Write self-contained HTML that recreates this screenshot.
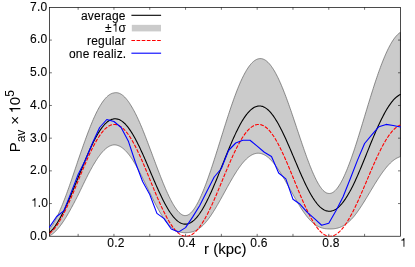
<!DOCTYPE html>
<html><head><meta charset="utf-8"><style>
html,body{margin:0;padding:0;background:#fff}
body{width:415px;height:267px;position:relative;overflow:hidden;font-family:"Liberation Sans",sans-serif;color:#000}
.t{position:absolute;font-size:12px;line-height:14px;white-space:nowrap;will-change:transform;letter-spacing:0.3px;-webkit-text-stroke:0.1px #000}
.one{width:0.556em;height:0.727em;vertical-align:baseline;display:inline-block}
</style></head><body>
<svg width="415" height="267" viewBox="0 0 415 267" style="position:absolute;left:0;top:0">
<defs><clipPath id="c"><rect x="48.90" y="7.40" width="352.10" height="229.15"/></clipPath></defs>
<g clip-path="url(#c)">
<path d="M49.50,229.33 L50.22,228.40 L50.93,227.42 L51.65,226.37 L52.36,225.27 L53.08,224.12 L53.80,222.90 L54.51,221.64 L55.23,220.32 L55.95,218.95 L56.66,217.53 L57.38,216.06 L58.09,214.55 L58.81,212.99 L59.53,211.38 L60.24,209.73 L60.96,208.07 L61.67,206.38 L62.39,204.64 L63.11,202.86 L63.82,201.05 L64.54,199.21 L65.25,197.33 L65.97,195.42 L66.69,193.49 L67.40,191.52 L68.12,189.53 L68.84,187.51 L69.55,185.48 L70.27,183.44 L70.98,181.39 L71.70,179.31 L72.42,177.22 L73.13,175.12 L73.85,173.01 L74.56,170.88 L75.28,168.74 L76.00,166.60 L76.71,164.46 L77.43,162.31 L78.14,160.16 L78.86,158.09 L79.58,156.03 L80.29,153.97 L81.01,151.92 L81.73,149.88 L82.44,147.83 L83.16,145.79 L83.87,143.77 L84.59,141.77 L85.31,139.79 L86.02,137.82 L86.74,135.88 L87.45,133.96 L88.17,132.06 L88.89,130.20 L89.60,128.36 L90.32,126.55 L91.04,124.77 L91.75,123.03 L92.47,121.32 L93.18,119.65 L93.90,118.01 L94.62,116.42 L95.33,114.86 L96.05,113.35 L96.76,111.91 L97.48,110.51 L98.20,109.16 L98.91,107.85 L99.63,106.60 L100.34,105.39 L101.06,104.23 L101.78,103.13 L102.49,102.07 L103.21,101.07 L103.93,100.13 L104.64,99.23 L105.36,98.40 L106.07,97.62 L106.79,96.90 L107.51,96.23 L108.22,95.62 L108.94,95.08 L109.65,94.59 L110.37,94.16 L111.09,93.79 L111.80,93.48 L112.52,93.23 L113.23,93.04 L113.95,92.91 L114.67,92.76 L115.38,92.68 L116.10,92.66 L116.82,92.69 L117.53,92.79 L118.25,92.96 L118.96,93.18 L119.68,93.46 L120.40,93.80 L121.11,94.21 L121.83,94.67 L122.54,95.19 L123.26,95.77 L123.98,96.41 L124.69,97.10 L125.41,97.85 L126.13,98.66 L126.84,99.52 L127.56,100.44 L128.27,101.40 L128.99,102.42 L129.71,103.50 L130.42,104.62 L131.14,105.79 L131.85,107.01 L132.57,108.22 L133.29,109.48 L134.00,110.79 L134.72,112.13 L135.43,113.53 L136.15,114.96 L136.87,116.43 L137.58,117.94 L138.30,119.49 L139.02,121.07 L139.73,122.69 L140.45,124.34 L141.16,126.02 L141.88,127.73 L142.60,129.47 L143.31,131.23 L144.03,133.02 L144.74,134.82 L145.46,136.65 L146.18,138.50 L146.89,140.37 L147.61,142.25 L148.32,144.15 L149.04,146.06 L149.76,147.97 L150.47,149.87 L151.19,151.78 L151.91,153.69 L152.62,155.60 L153.34,157.52 L154.05,159.44 L154.77,161.35 L155.49,163.27 L156.20,165.17 L156.92,167.07 L157.63,168.96 L158.35,170.84 L159.07,172.71 L159.78,174.56 L160.50,176.40 L161.22,178.22 L161.93,180.02 L162.65,181.79 L163.36,183.55 L164.08,185.28 L164.80,186.98 L165.51,188.65 L166.23,190.29 L166.94,191.90 L167.66,193.48 L168.38,195.01 L169.09,196.52 L169.81,197.98 L170.52,199.40 L171.24,200.77 L171.96,202.11 L172.67,203.39 L173.39,204.62 L174.11,205.80 L174.82,206.93 L175.54,208.01 L176.25,209.02 L176.97,209.97 L177.69,210.86 L178.40,211.68 L179.12,212.43 L179.83,213.11 L180.55,213.71 L181.27,214.24 L181.98,214.68 L182.70,215.04 L183.41,215.31 L184.13,215.49 L184.85,215.58 L185.56,215.57 L186.28,215.49 L187.00,215.32 L187.71,215.05 L188.43,214.69 L189.14,214.25 L189.86,213.72 L190.58,213.10 L191.29,212.40 L192.01,211.62 L192.72,210.76 L193.44,209.83 L194.16,208.82 L194.87,207.75 L195.59,206.61 L196.31,205.40 L197.02,204.13 L197.74,202.80 L198.45,201.41 L199.17,199.97 L199.89,198.46 L200.60,196.91 L201.32,195.31 L202.03,193.66 L202.75,191.96 L203.47,190.21 L204.18,188.42 L204.90,186.59 L205.61,184.72 L206.33,182.81 L207.05,180.87 L207.76,178.89 L208.48,176.88 L209.20,174.83 L209.91,172.76 L210.63,170.66 L211.34,168.53 L212.06,166.38 L212.78,164.20 L213.49,162.01 L214.21,159.80 L214.92,157.57 L215.64,155.32 L216.36,153.06 L217.07,150.79 L217.79,148.52 L218.50,146.23 L219.22,143.94 L219.94,141.64 L220.65,139.34 L221.37,137.04 L222.09,134.75 L222.80,132.46 L223.52,130.17 L224.23,127.89 L224.95,125.62 L225.67,123.36 L226.38,121.11 L227.10,118.88 L227.81,116.67 L228.53,114.47 L229.25,112.30 L229.96,110.14 L230.68,108.01 L231.40,105.91 L232.11,103.83 L232.83,101.78 L233.54,99.76 L234.26,97.78 L234.98,95.82 L235.69,93.91 L236.41,92.03 L237.12,90.18 L237.84,88.38 L238.56,86.62 L239.27,84.91 L239.99,83.23 L240.70,81.60 L241.42,80.02 L242.14,78.49 L242.85,77.01 L243.57,75.57 L244.29,74.19 L245.00,72.86 L245.72,71.59 L246.43,70.37 L247.15,69.21 L247.87,68.10 L248.58,67.05 L249.30,66.06 L250.01,65.13 L250.73,64.26 L251.45,63.45 L252.16,62.70 L252.88,62.01 L253.59,61.38 L254.31,60.82 L255.03,60.32 L255.74,59.88 L256.46,59.51 L257.18,59.20 L257.89,58.95 L258.61,58.75 L259.32,58.63 L260.04,58.57 L260.76,58.58 L261.47,58.65 L262.19,58.79 L262.90,59.00 L263.62,59.27 L264.34,59.61 L265.05,60.01 L265.77,60.48 L266.49,61.01 L267.20,61.61 L267.92,62.27 L268.63,62.99 L269.35,63.78 L270.07,64.62 L270.78,65.53 L271.50,66.49 L272.21,67.52 L272.93,68.60 L273.65,69.73 L274.36,70.92 L275.08,72.17 L275.79,73.47 L276.51,74.82 L277.23,76.22 L277.94,77.67 L278.66,79.17 L279.38,80.71 L280.09,82.30 L280.81,83.93 L281.52,85.61 L282.24,87.32 L282.96,89.07 L283.67,90.86 L284.39,92.69 L285.10,94.55 L285.82,96.44 L286.54,98.36 L287.25,100.31 L287.97,102.29 L288.68,104.29 L289.40,106.31 L290.12,108.36 L290.83,110.42 L291.55,112.50 L292.27,114.60 L292.98,116.71 L293.70,118.83 L294.41,120.96 L295.13,123.10 L295.85,125.25 L296.56,127.40 L297.28,129.55 L297.99,131.70 L298.71,133.84 L299.43,135.98 L300.14,138.12 L300.86,140.25 L301.58,142.36 L302.29,144.47 L303.01,146.55 L303.72,148.63 L304.44,150.68 L305.16,152.71 L305.87,154.72 L306.59,156.70 L307.30,158.66 L308.02,160.58 L308.74,162.48 L309.45,164.34 L310.17,166.16 L310.88,167.95 L311.60,169.70 L312.32,171.40 L313.03,173.06 L313.75,174.68 L314.47,176.24 L315.18,177.75 L315.90,179.21 L316.61,180.61 L317.33,181.96 L318.05,183.24 L318.76,184.46 L319.48,185.61 L320.19,186.69 L320.91,187.71 L321.63,188.65 L322.34,189.51 L323.06,190.29 L323.77,190.99 L324.49,191.61 L325.21,192.14 L325.92,192.59 L326.64,192.94 L327.36,193.20 L328.07,193.37 L328.79,193.45 L329.50,193.48 L330.22,193.41 L330.94,193.25 L331.65,193.01 L332.37,192.68 L333.08,192.27 L333.80,191.77 L334.52,191.18 L335.23,190.51 L335.95,189.77 L336.67,188.94 L337.38,188.04 L338.10,187.06 L338.81,186.01 L339.53,184.89 L340.25,183.71 L340.96,182.45 L341.68,181.13 L342.39,179.76 L343.11,178.32 L343.83,176.82 L344.54,175.27 L345.26,173.66 L345.97,172.00 L346.69,170.30 L347.41,168.54 L348.12,166.74 L348.84,164.90 L349.56,163.01 L350.27,161.09 L350.99,159.13 L351.70,157.13 L352.42,155.10 L353.14,153.03 L353.85,150.94 L354.57,148.77 L355.28,146.57 L356.00,144.35 L356.72,142.10 L357.43,139.84 L358.15,137.55 L358.86,135.25 L359.58,132.93 L360.30,130.60 L361.01,128.26 L361.73,125.91 L362.45,123.55 L363.16,121.19 L363.88,118.82 L364.59,116.45 L365.31,114.08 L366.03,111.71 L366.74,109.34 L367.46,106.98 L368.17,104.63 L368.89,102.28 L369.61,99.95 L370.32,97.62 L371.04,95.32 L371.76,93.02 L372.47,90.75 L373.19,88.50 L373.90,86.26 L374.62,84.05 L375.34,81.87 L376.05,79.72 L376.77,77.60 L377.48,75.51 L378.20,73.45 L378.92,71.42 L379.63,69.43 L380.35,67.47 L381.06,65.56 L381.78,63.67 L382.50,61.83 L383.21,60.04 L383.93,58.28 L384.65,56.57 L385.36,54.90 L386.08,53.29 L386.79,51.72 L387.51,50.20 L388.23,48.72 L388.94,47.31 L389.66,45.94 L390.37,44.63 L391.09,43.37 L391.81,42.17 L392.52,41.02 L393.24,39.93 L393.95,38.90 L394.67,37.93 L395.39,37.01 L396.10,36.16 L396.82,35.37 L397.54,34.64 L398.25,33.97 L398.97,33.37 L399.68,32.82 L400.40,32.34 L400.40,156.69 L399.68,156.90 L398.97,157.15 L398.25,157.45 L397.54,157.77 L396.82,158.14 L396.10,158.54 L395.39,158.98 L394.67,159.46 L393.95,159.97 L393.24,160.51 L392.52,161.09 L391.81,161.71 L391.09,162.35 L390.37,163.03 L389.66,163.75 L388.94,164.49 L388.23,165.26 L387.51,166.06 L386.79,166.89 L386.08,167.75 L385.36,168.64 L384.65,169.55 L383.93,170.48 L383.21,171.44 L382.50,172.42 L381.78,173.42 L381.06,174.45 L380.35,175.49 L379.63,176.55 L378.92,177.63 L378.20,178.72 L377.48,179.83 L376.77,180.95 L376.05,182.08 L375.34,183.23 L374.62,184.39 L373.90,185.57 L373.19,186.75 L372.47,187.93 L371.76,189.12 L371.04,190.32 L370.32,191.51 L369.61,192.71 L368.89,193.90 L368.17,195.10 L367.46,196.29 L366.74,197.47 L366.03,198.65 L365.31,199.82 L364.59,200.98 L363.88,202.14 L363.16,203.28 L362.45,204.41 L361.73,205.53 L361.01,206.63 L360.30,207.71 L359.58,208.78 L358.86,209.83 L358.15,210.86 L357.43,211.87 L356.72,212.86 L356.00,213.83 L355.28,214.77 L354.57,215.69 L353.85,216.59 L353.14,217.41 L352.42,218.20 L351.70,218.97 L350.99,219.71 L350.27,220.42 L349.56,221.10 L348.84,221.75 L348.12,222.37 L347.41,222.96 L346.69,223.52 L345.97,224.05 L345.26,224.55 L344.54,225.02 L343.83,225.46 L343.11,225.87 L342.39,226.25 L341.68,226.60 L340.96,226.93 L340.25,227.22 L339.53,227.49 L338.81,227.73 L338.10,227.95 L337.38,228.14 L336.67,228.31 L335.95,228.45 L335.23,228.58 L334.52,228.68 L333.80,228.77 L333.08,228.84 L332.37,228.89 L331.65,228.92 L330.94,228.94 L330.22,228.95 L329.50,228.93 L328.79,228.91 L328.07,228.89 L327.36,228.86 L326.64,228.81 L325.92,228.75 L325.21,228.66 L324.49,228.55 L323.77,228.42 L323.06,228.27 L322.34,228.09 L321.63,227.88 L320.91,227.65 L320.19,227.39 L319.48,227.10 L318.76,226.77 L318.05,226.42 L317.33,226.03 L316.61,225.61 L315.90,225.15 L315.18,224.66 L314.47,224.13 L313.75,223.57 L313.03,222.98 L312.32,222.34 L311.60,221.68 L310.88,220.97 L310.17,220.24 L309.45,219.47 L308.74,218.66 L308.02,217.82 L307.30,216.96 L306.59,216.06 L305.87,215.12 L305.16,214.16 L304.44,213.18 L303.72,212.16 L303.01,211.12 L302.29,210.05 L301.58,208.96 L300.86,207.84 L300.14,206.71 L299.43,205.55 L298.71,204.38 L297.99,203.19 L297.28,201.98 L296.56,200.76 L295.85,199.52 L295.13,198.28 L294.41,197.02 L293.70,195.76 L292.98,194.49 L292.27,193.21 L291.55,191.93 L290.83,190.65 L290.12,189.36 L289.40,188.08 L288.68,186.80 L287.97,185.53 L287.25,184.26 L286.54,182.99 L285.82,181.74 L285.10,180.49 L284.39,179.26 L283.67,178.04 L282.96,176.84 L282.24,175.65 L281.52,174.48 L280.81,173.33 L280.09,172.19 L279.38,171.08 L278.66,170.00 L277.94,168.93 L277.23,167.90 L276.51,166.89 L275.79,165.91 L275.08,164.95 L274.36,164.03 L273.65,163.14 L272.93,162.28 L272.21,161.46 L271.50,160.67 L270.78,159.91 L270.07,159.20 L269.35,158.52 L268.63,157.87 L267.92,157.27 L267.20,156.71 L266.49,156.18 L265.77,155.70 L265.05,155.26 L264.34,154.86 L263.62,154.51 L262.90,154.20 L262.19,153.93 L261.47,153.70 L260.76,153.52 L260.04,153.38 L259.32,153.29 L258.61,153.24 L257.89,153.24 L257.18,153.28 L256.46,153.36 L255.74,153.49 L255.03,153.66 L254.31,153.87 L253.59,154.13 L252.88,154.43 L252.16,154.77 L251.45,155.15 L250.73,155.58 L250.01,156.04 L249.30,156.54 L248.58,157.09 L247.87,157.67 L247.15,158.29 L246.43,158.95 L245.72,159.65 L245.00,160.39 L244.29,161.15 L243.57,161.96 L242.85,162.80 L242.14,163.67 L241.42,164.57 L240.70,165.50 L239.99,166.47 L239.27,167.46 L238.56,168.48 L237.84,169.53 L237.12,170.60 L236.41,171.70 L235.69,172.82 L234.98,173.96 L234.26,175.12 L233.54,176.30 L232.83,177.50 L232.11,178.72 L231.40,179.95 L230.68,181.20 L229.96,182.46 L229.25,183.73 L228.53,185.00 L227.81,186.29 L227.10,187.59 L226.38,188.89 L225.67,190.19 L224.95,191.50 L224.23,192.80 L223.52,194.11 L222.80,195.41 L222.09,196.71 L221.37,198.01 L220.65,199.30 L219.94,200.58 L219.22,201.85 L218.50,203.12 L217.79,204.36 L217.07,205.60 L216.36,206.82 L215.64,208.03 L214.92,209.21 L214.21,210.38 L213.49,211.53 L212.78,212.65 L212.06,213.76 L211.34,214.84 L210.63,215.89 L209.91,216.92 L209.20,217.92 L208.48,218.89 L207.76,219.83 L207.05,220.74 L206.33,221.62 L205.61,222.46 L204.90,223.28 L204.18,224.06 L203.47,224.80 L202.75,225.51 L202.03,226.19 L201.32,226.83 L200.60,227.43 L199.89,228.00 L199.17,228.53 L198.45,229.02 L197.74,229.48 L197.02,229.90 L196.31,230.29 L195.59,230.64 L194.87,230.96 L194.16,231.25 L193.44,231.51 L192.72,231.73 L192.01,231.93 L191.29,232.10 L190.58,232.24 L189.86,232.37 L189.14,232.47 L188.43,232.55 L187.71,232.61 L187.00,232.66 L186.28,232.69 L185.56,232.70 L184.85,232.69 L184.13,232.66 L183.41,232.62 L182.70,232.55 L181.98,232.47 L181.27,232.36 L180.55,232.22 L179.83,232.06 L179.12,231.86 L178.40,231.64 L177.69,231.38 L176.97,231.08 L176.25,230.75 L175.54,230.38 L174.82,229.97 L174.11,229.51 L173.39,229.02 L172.67,228.48 L171.96,227.91 L171.24,227.29 L170.52,226.63 L169.81,225.92 L169.09,225.18 L168.38,224.39 L167.66,223.57 L166.94,222.70 L166.23,221.79 L165.51,220.85 L164.80,219.87 L164.08,218.85 L163.36,217.79 L162.65,216.71 L161.93,215.58 L161.22,214.43 L160.50,213.24 L159.78,212.03 L159.07,210.78 L158.35,209.51 L157.63,208.22 L156.92,206.90 L156.20,205.55 L155.49,204.19 L154.77,202.81 L154.05,201.40 L153.34,199.98 L152.62,198.55 L151.91,197.10 L151.19,195.64 L150.47,194.17 L149.76,192.70 L149.04,191.24 L148.32,189.78 L147.61,188.32 L146.89,186.85 L146.18,185.39 L145.46,183.93 L144.74,182.47 L144.03,181.02 L143.31,179.57 L142.60,178.13 L141.88,176.71 L141.16,175.29 L140.45,173.89 L139.73,172.51 L139.02,171.14 L138.30,169.78 L137.58,168.45 L136.87,167.14 L136.15,165.85 L135.43,164.59 L134.72,163.35 L134.00,162.14 L133.29,160.95 L132.57,159.80 L131.85,158.67 L131.14,157.63 L130.42,156.62 L129.71,155.65 L128.99,154.72 L128.27,153.82 L127.56,152.96 L126.84,152.14 L126.13,151.36 L125.41,150.62 L124.69,149.92 L123.98,149.26 L123.26,148.65 L122.54,148.08 L121.83,147.56 L121.11,147.08 L120.40,146.64 L119.68,146.26 L118.96,145.92 L118.25,145.63 L117.53,145.38 L116.82,145.18 L116.10,145.03 L115.38,144.93 L114.67,144.88 L113.95,144.88 L113.23,144.96 L112.52,145.10 L111.80,145.28 L111.09,145.51 L110.37,145.79 L109.65,146.11 L108.94,146.49 L108.22,146.91 L107.51,147.37 L106.79,147.88 L106.07,148.44 L105.36,149.04 L104.64,149.69 L103.93,150.38 L103.21,151.12 L102.49,151.89 L101.78,152.71 L101.06,153.57 L100.34,154.47 L99.63,155.41 L98.91,156.38 L98.20,157.39 L97.48,158.44 L96.76,159.53 L96.05,160.64 L95.33,161.77 L94.62,162.92 L93.90,164.10 L93.18,165.32 L92.47,166.56 L91.75,167.83 L91.04,169.12 L90.32,170.44 L89.60,171.78 L88.89,173.14 L88.17,174.52 L87.45,175.92 L86.74,177.34 L86.02,178.77 L85.31,180.21 L84.59,181.67 L83.87,183.14 L83.16,184.62 L82.44,186.10 L81.73,187.60 L81.01,189.07 L80.29,190.55 L79.58,192.03 L78.86,193.51 L78.14,194.99 L77.43,196.39 L76.71,197.78 L76.00,199.17 L75.28,200.55 L74.56,201.93 L73.85,203.29 L73.13,204.65 L72.42,205.99 L71.70,207.31 L70.98,208.62 L70.27,209.92 L69.55,211.20 L68.84,212.46 L68.12,213.72 L67.40,214.96 L66.69,216.17 L65.97,217.36 L65.25,218.52 L64.54,219.66 L63.82,220.76 L63.11,221.84 L62.39,222.88 L61.67,223.89 L60.96,224.87 L60.24,225.81 L59.53,226.76 L58.81,227.66 L58.09,228.53 L57.38,229.36 L56.66,230.16 L55.95,230.91 L55.23,231.62 L54.51,232.29 L53.80,232.92 L53.08,233.51 L52.36,234.05 L51.65,234.55 L50.93,235.01 L50.22,235.43 L49.50,235.80Z" fill="#cbcbcb" stroke="#606060" stroke-width="0.7"/>
</g>
<rect x="49.50" y="7.40" width="350.90" height="228.85" fill="none" stroke="#111" stroke-width="0.75"/>
<path d="M78.14,236.25v-2.4 M78.14,7.40v2.4 M113.95,236.25v-2.4 M113.95,7.40v2.4 M149.76,236.25v-2.4 M149.76,7.40v2.4 M185.56,236.25v-2.4 M185.56,7.40v2.4 M221.37,236.25v-2.4 M221.37,7.40v2.4 M257.18,236.25v-2.4 M257.18,7.40v2.4 M292.98,236.25v-2.4 M292.98,7.40v2.4 M328.79,236.25v-2.4 M328.79,7.40v2.4 M364.59,236.25v-2.4 M364.59,7.40v2.4 M49.50,203.56h2.4 M400.40,203.56h-2.4 M49.50,170.86h2.4 M400.40,170.86h-2.4 M49.50,138.17h2.4 M400.40,138.17h-2.4 M49.50,105.48h2.4 M400.40,105.48h-2.4 M49.50,72.79h2.4 M400.40,72.79h-2.4 M49.50,40.09h2.4 M400.40,40.09h-2.4" stroke="#000" stroke-width="0.55" fill="none"/>
<g clip-path="url(#c)">
<path d="M49.50,232.57 L50.22,231.92 L50.93,231.22 L51.65,230.46 L52.36,229.66 L53.08,228.81 L53.80,227.91 L54.51,226.96 L55.23,225.97 L55.95,224.93 L56.66,223.84 L57.38,222.71 L58.09,221.54 L58.81,220.32 L59.53,219.07 L60.24,217.77 L60.96,216.47 L61.67,215.13 L62.39,213.76 L63.11,212.35 L63.82,210.91 L64.54,209.43 L65.25,207.93 L65.97,206.39 L66.69,204.83 L67.40,203.24 L68.12,201.63 L68.84,199.99 L69.55,198.34 L70.27,196.68 L70.98,195.01 L71.70,193.31 L72.42,191.61 L73.13,189.88 L73.85,188.15 L74.56,186.40 L75.28,184.65 L76.00,182.89 L76.71,181.12 L77.43,179.35 L78.14,177.58 L78.86,175.80 L79.58,174.03 L80.29,172.26 L81.01,170.50 L81.73,168.74 L82.44,166.97 L83.16,165.21 L83.87,163.46 L84.59,161.72 L85.31,160.00 L86.02,158.29 L86.74,156.61 L87.45,154.94 L88.17,153.29 L88.89,151.67 L89.60,150.07 L90.32,148.49 L91.04,146.95 L91.75,145.43 L92.47,143.94 L93.18,142.48 L93.90,141.06 L94.62,139.67 L95.33,138.31 L96.05,137.00 L96.76,135.72 L97.48,134.48 L98.20,133.28 L98.91,132.12 L99.63,131.00 L100.34,129.93 L101.06,128.90 L101.78,127.92 L102.49,126.98 L103.21,126.09 L103.93,125.25 L104.64,124.46 L105.36,123.72 L106.07,123.03 L106.79,122.39 L107.51,121.80 L108.22,121.26 L108.94,120.78 L109.65,120.35 L110.37,119.97 L111.09,119.65 L111.80,119.38 L112.52,119.16 L113.23,119.00 L113.95,118.89 L114.67,118.82 L115.38,118.81 L116.10,118.84 L116.82,118.94 L117.53,119.09 L118.25,119.29 L118.96,119.55 L119.68,119.86 L120.40,120.22 L121.11,120.64 L121.83,121.11 L122.54,121.63 L123.26,122.21 L123.98,122.83 L124.69,123.51 L125.41,124.23 L126.13,125.01 L126.84,125.83 L127.56,126.70 L128.27,127.61 L128.99,128.57 L129.71,129.57 L130.42,130.62 L131.14,131.71 L131.85,132.84 L132.57,134.01 L133.29,135.22 L134.00,136.46 L134.72,137.74 L135.43,139.06 L136.15,140.41 L136.87,141.79 L137.58,143.20 L138.30,144.64 L139.02,146.10 L139.73,147.60 L140.45,149.12 L141.16,150.66 L141.88,152.22 L142.60,153.80 L143.31,155.40 L144.03,157.02 L144.74,158.65 L145.46,160.29 L146.18,161.95 L146.89,163.61 L147.61,165.28 L148.32,166.96 L149.04,168.65 L149.76,170.33 L150.47,172.02 L151.19,173.71 L151.91,175.40 L152.62,177.08 L153.34,178.75 L154.05,180.42 L154.77,182.08 L155.49,183.73 L156.20,185.36 L156.92,186.99 L157.63,188.59 L158.35,190.18 L159.07,191.75 L159.78,193.30 L160.50,194.82 L161.22,196.32 L161.93,197.80 L162.65,199.25 L163.36,200.67 L164.08,202.06 L164.80,203.42 L165.51,204.75 L166.23,206.04 L166.94,207.30 L167.66,208.52 L168.38,209.70 L169.09,210.85 L169.81,211.95 L170.52,213.01 L171.24,214.03 L171.96,215.01 L172.67,215.94 L173.39,216.82 L174.11,217.66 L174.82,218.45 L175.54,219.19 L176.25,219.88 L176.97,220.53 L177.69,221.12 L178.40,221.66 L179.12,222.15 L179.83,222.58 L180.55,222.97 L181.27,223.30 L181.98,223.57 L182.70,223.80 L183.41,223.96 L184.13,224.08 L184.85,224.13 L185.56,224.14 L186.28,224.09 L187.00,223.99 L187.71,223.83 L188.43,223.62 L189.14,223.36 L189.86,223.04 L190.58,222.67 L191.29,222.25 L192.01,221.77 L192.72,221.25 L193.44,220.67 L194.16,220.04 L194.87,219.36 L195.59,218.63 L196.31,217.85 L197.02,217.02 L197.74,216.14 L198.45,215.22 L199.17,214.25 L199.89,213.23 L200.60,212.17 L201.32,211.07 L202.03,209.92 L202.75,208.74 L203.47,207.51 L204.18,206.24 L204.90,204.94 L205.61,203.59 L206.33,202.22 L207.05,200.80 L207.76,199.36 L208.48,197.88 L209.20,196.37 L209.91,194.84 L210.63,193.27 L211.34,191.68 L212.06,190.07 L212.78,188.43 L213.49,186.77 L214.21,185.09 L214.92,183.39 L215.64,181.67 L216.36,179.94 L217.07,178.20 L217.79,176.44 L218.50,174.67 L219.22,172.90 L219.94,171.11 L220.65,169.32 L221.37,167.53 L222.09,165.73 L222.80,163.93 L223.52,162.14 L224.23,160.35 L224.95,158.56 L225.67,156.78 L226.38,155.00 L227.10,153.24 L227.81,151.48 L228.53,149.74 L229.25,148.01 L229.96,146.30 L230.68,144.61 L231.40,142.93 L232.11,141.27 L232.83,139.64 L233.54,138.03 L234.26,136.45 L234.98,134.89 L235.69,133.36 L236.41,131.86 L237.12,130.39 L237.84,128.96 L238.56,127.55 L239.27,126.18 L239.99,124.85 L240.70,123.55 L241.42,122.30 L242.14,121.08 L242.85,119.90 L243.57,118.77 L244.29,117.67 L245.00,116.63 L245.72,115.62 L246.43,114.66 L247.15,113.75 L247.87,112.89 L248.58,112.07 L249.30,111.30 L250.01,110.58 L250.73,109.92 L251.45,109.30 L252.16,108.73 L252.88,108.22 L253.59,107.76 L254.31,107.35 L255.03,106.99 L255.74,106.69 L256.46,106.44 L257.18,106.24 L257.89,106.09 L258.61,106.00 L259.32,105.96 L260.04,105.98 L260.76,106.05 L261.47,106.18 L262.19,106.36 L262.90,106.60 L263.62,106.89 L264.34,107.24 L265.05,107.64 L265.77,108.09 L266.49,108.60 L267.20,109.16 L267.92,109.77 L268.63,110.43 L269.35,111.15 L270.07,111.91 L270.78,112.72 L271.50,113.58 L272.21,114.49 L272.93,115.44 L273.65,116.44 L274.36,117.48 L275.08,118.56 L275.79,119.69 L276.51,120.85 L277.23,122.06 L277.94,123.30 L278.66,124.58 L279.38,125.90 L280.09,127.25 L280.81,128.63 L281.52,130.04 L282.24,131.48 L282.96,132.96 L283.67,134.45 L284.39,135.98 L285.10,137.52 L285.82,139.09 L286.54,140.68 L287.25,142.28 L287.97,143.91 L288.68,145.54 L289.40,147.20 L290.12,148.86 L290.83,150.53 L291.55,152.22 L292.27,153.91 L292.98,155.60 L293.70,157.30 L294.41,158.99 L295.13,160.69 L295.85,162.39 L296.56,164.08 L297.28,165.76 L297.99,167.44 L298.71,169.11 L299.43,170.77 L300.14,172.41 L300.86,174.05 L301.58,175.66 L302.29,177.26 L303.01,178.84 L303.72,180.39 L304.44,181.93 L305.16,183.44 L305.87,184.92 L306.59,186.38 L307.30,187.81 L308.02,189.20 L308.74,190.57 L309.45,191.90 L310.17,193.20 L310.88,194.46 L311.60,195.69 L312.32,196.87 L313.03,198.02 L313.75,199.12 L314.47,200.19 L315.18,201.21 L315.90,202.18 L316.61,203.11 L317.33,203.99 L318.05,204.83 L318.76,205.62 L319.48,206.35 L320.19,207.04 L320.91,207.68 L321.63,208.27 L322.34,208.80 L323.06,209.28 L323.77,209.71 L324.49,210.08 L325.21,210.40 L325.92,210.67 L326.64,210.88 L327.36,211.03 L328.07,211.13 L328.79,211.18 L329.50,211.20 L330.22,211.18 L330.94,211.10 L331.65,210.97 L332.37,210.78 L333.08,210.55 L333.80,210.27 L334.52,209.93 L335.23,209.55 L335.95,209.11 L336.67,208.62 L337.38,208.09 L338.10,207.50 L338.81,206.87 L339.53,206.19 L340.25,205.46 L340.96,204.69 L341.68,203.87 L342.39,203.00 L343.11,202.09 L343.83,201.14 L344.54,200.15 L345.26,199.11 L345.97,198.03 L346.69,196.91 L347.41,195.75 L348.12,194.56 L348.84,193.32 L349.56,192.06 L350.27,190.75 L350.99,189.42 L351.70,188.05 L352.42,186.65 L353.14,185.22 L353.85,183.76 L354.57,182.23 L355.28,180.67 L356.00,179.09 L356.72,177.48 L357.43,175.86 L358.15,174.21 L358.86,172.54 L359.58,170.86 L360.30,169.16 L361.01,167.45 L361.73,165.72 L362.45,163.98 L363.16,162.23 L363.88,160.48 L364.59,158.72 L365.31,156.95 L366.03,155.18 L366.74,153.41 L367.46,151.63 L368.17,149.86 L368.89,148.09 L369.61,146.33 L370.32,144.57 L371.04,142.82 L371.76,141.07 L372.47,139.34 L373.19,137.62 L373.90,135.91 L374.62,134.22 L375.34,132.55 L376.05,130.90 L376.77,129.27 L377.48,127.67 L378.20,126.08 L378.92,124.52 L379.63,122.99 L380.35,121.48 L381.06,120.00 L381.78,118.55 L382.50,117.13 L383.21,115.74 L383.93,114.38 L384.65,113.06 L385.36,111.77 L386.08,110.52 L386.79,109.30 L387.51,108.13 L388.23,106.99 L388.94,105.90 L389.66,104.84 L390.37,103.83 L391.09,102.86 L391.81,101.94 L392.52,101.06 L393.24,100.22 L393.95,99.43 L394.67,98.69 L395.39,98.00 L396.10,97.35 L396.82,96.76 L397.54,96.21 L398.25,95.71 L398.97,95.26 L399.68,94.86 L400.40,94.52" fill="none" stroke="#000" stroke-width="1.1" stroke-linecap="round"/>
<path d="M49.50,233.55 L50.22,232.98 L50.93,232.37 L51.65,231.71 L52.36,230.99 L53.08,230.23 L53.80,229.42 L54.51,228.56 L55.23,227.65 L55.95,226.69 L56.66,225.70 L57.38,224.65 L58.09,223.57 L58.81,222.44 L59.53,221.27 L60.24,220.06 L60.96,218.81 L61.67,217.53 L62.39,216.21 L63.11,214.85 L63.82,213.46 L64.54,212.04 L65.25,210.58 L65.97,209.10 L66.69,207.59 L67.40,206.05 L68.12,204.49 L68.84,202.90 L69.55,201.29 L70.27,199.67 L70.98,198.02 L71.70,196.35 L72.42,194.67 L73.13,192.98 L73.85,191.27 L74.56,189.56 L75.28,187.83 L76.00,186.10 L76.71,184.36 L77.43,182.61 L78.14,180.87 L78.86,179.12 L79.58,177.38 L80.29,175.64 L81.01,173.90 L81.73,172.17 L82.44,170.45 L83.16,168.73 L83.87,167.03 L84.59,165.34 L85.31,163.67 L86.02,162.01 L86.74,160.37 L87.45,158.75 L88.17,157.15 L88.89,155.57 L89.60,154.02 L90.32,152.49 L91.04,150.99 L91.75,149.52 L92.47,148.08 L93.18,146.67 L93.90,145.29 L94.62,143.95 L95.33,142.64 L96.05,141.37 L96.76,140.14 L97.48,138.95 L98.20,137.80 L98.91,136.68 L99.63,135.61 L100.34,134.59 L101.06,133.61 L101.78,132.67 L102.49,131.79 L103.21,130.94 L103.93,130.15 L104.64,129.41 L105.36,128.71 L106.07,128.07 L106.79,127.48 L107.51,126.93 L108.22,126.44 L108.94,126.01 L109.65,125.62 L110.37,125.29 L111.09,125.02 L111.80,124.79 L112.52,124.62 L113.23,124.51 L113.95,124.45 L114.67,124.44 L115.38,124.49 L116.10,124.60 L116.82,124.76 L117.53,124.97 L118.25,125.24 L118.96,125.56 L119.68,125.94 L120.40,126.37 L121.11,126.85 L121.83,127.39 L122.54,127.98 L123.26,128.62 L123.98,129.31 L124.69,130.05 L125.41,130.84 L126.13,131.68 L126.84,132.56 L127.56,133.50 L128.27,134.48 L128.99,135.50 L129.71,136.57 L130.42,137.68 L131.14,138.84 L131.85,140.03 L132.57,141.27 L133.29,142.54 L134.00,143.85 L134.72,145.20 L135.43,146.58 L136.15,147.99 L136.87,149.44 L137.58,150.91 L138.30,152.42 L139.02,153.95 L139.73,155.51 L140.45,157.09 L141.16,158.70 L141.88,160.33 L142.60,161.97 L143.31,163.64 L144.03,165.32 L144.74,167.02 L145.46,168.72 L146.18,170.45 L146.89,172.18 L147.61,173.91 L148.32,175.66 L149.04,177.41 L149.76,179.16 L150.47,180.92 L151.19,182.67 L151.91,184.42 L152.62,186.17 L153.34,187.91 L154.05,189.64 L154.77,191.36 L155.49,193.08 L156.20,194.78 L156.92,196.47 L157.63,198.14 L158.35,199.79 L159.07,201.42 L159.78,203.04 L160.50,204.63 L161.22,206.20 L161.93,207.74 L162.65,209.25 L163.36,210.74 L164.08,212.20 L164.80,213.62 L165.51,215.01 L166.23,216.37 L166.94,217.70 L167.66,218.98 L168.38,220.23 L169.09,221.44 L169.81,222.61 L170.52,223.74 L171.24,224.82 L171.96,225.86 L172.67,226.86 L173.39,227.81 L174.11,228.71 L174.82,229.56 L175.54,230.37 L176.25,231.13 L176.97,231.84 L177.69,232.50 L178.40,233.10 L179.12,233.66 L179.83,234.16 L180.55,234.61 L181.27,235.00 L181.98,235.34 L182.70,235.63 L183.41,235.86 L184.13,236.04 L184.85,236.17 L185.56,236.23 L186.28,236.25 L187.00,236.21 L187.71,236.11 L188.43,235.97 L189.14,235.76 L189.86,235.51 L190.58,235.20 L191.29,234.84 L192.01,234.43 L192.72,233.96 L193.44,233.45 L194.16,232.88 L194.87,232.26 L195.59,231.59 L196.31,230.87 L197.02,230.11 L197.74,229.29 L198.45,228.43 L199.17,227.52 L199.89,226.57 L200.60,225.57 L201.32,224.53 L202.03,223.45 L202.75,222.32 L203.47,221.16 L204.18,219.95 L204.90,218.71 L205.61,217.43 L206.33,216.11 L207.05,214.76 L207.76,213.38 L208.48,211.97 L209.20,210.52 L209.91,209.05 L210.63,207.54 L211.34,206.01 L212.06,204.46 L212.78,202.89 L213.49,201.29 L214.21,199.67 L214.92,198.03 L215.64,196.38 L216.36,194.71 L217.07,193.03 L217.79,191.33 L218.50,189.63 L219.22,187.91 L219.94,186.19 L220.65,184.46 L221.37,182.73 L222.09,181.00 L222.80,179.26 L223.52,177.53 L224.23,175.80 L224.95,174.07 L225.67,172.35 L226.38,170.64 L227.10,168.93 L227.81,167.24 L228.53,165.56 L229.25,163.90 L229.96,162.25 L230.68,160.61 L231.40,159.00 L232.11,157.41 L232.83,155.84 L233.54,154.29 L234.26,152.77 L234.98,151.27 L235.69,149.81 L236.41,148.37 L237.12,146.96 L237.84,145.59 L238.56,144.24 L239.27,142.94 L239.99,141.67 L240.70,140.43 L241.42,139.24 L242.14,138.08 L242.85,136.97 L243.57,135.89 L244.29,134.86 L245.00,133.88 L245.72,132.94 L246.43,132.04 L247.15,131.19 L247.87,130.39 L248.58,129.63 L249.30,128.93 L250.01,128.27 L250.73,127.67 L251.45,127.11 L252.16,126.61 L252.88,126.15 L253.59,125.75 L254.31,125.41 L255.03,125.11 L255.74,124.87 L256.46,124.68 L257.18,124.55 L257.89,124.47 L258.61,124.44 L259.32,124.47 L260.04,124.55 L260.76,124.69 L261.47,124.89 L262.19,125.14 L262.90,125.44 L263.62,125.80 L264.34,126.21 L265.05,126.68 L265.77,127.20 L266.49,127.78 L267.20,128.41 L267.92,129.08 L268.63,129.81 L269.35,130.59 L270.07,131.42 L270.78,132.30 L271.50,133.23 L272.21,134.20 L272.93,135.22 L273.65,136.29 L274.36,137.39 L275.08,138.54 L275.79,139.74 L276.51,140.97 L277.23,142.24 L277.94,143.55 L278.66,144.90 L279.38,146.28 L280.09,147.70 L280.81,149.15 L281.52,150.63 L282.24,152.14 L282.96,153.68 L283.67,155.24 L284.39,156.83 L285.10,158.44 L285.82,160.08 L286.54,161.73 L287.25,163.41 L287.97,165.10 L288.68,166.80 L289.40,168.52 L290.12,170.25 L290.83,171.99 L291.55,173.74 L292.27,175.50 L292.98,177.26 L293.70,179.02 L294.41,180.79 L295.13,182.55 L295.85,184.31 L296.56,186.07 L297.28,187.82 L297.99,189.57 L298.71,191.31 L299.43,193.03 L300.14,194.74 L300.86,196.44 L301.58,198.12 L302.29,199.79 L303.01,201.43 L303.72,203.06 L304.44,204.66 L305.16,206.24 L305.87,207.79 L306.59,209.31 L307.30,210.81 L308.02,212.27 L308.74,213.70 L309.45,215.10 L310.17,216.47 L310.88,217.80 L311.60,219.09 L312.32,220.34 L313.03,221.55 L313.75,222.73 L314.47,223.86 L315.18,224.94 L315.90,225.98 L316.61,226.98 L317.33,227.93 L318.05,228.83 L318.76,229.69 L319.48,230.49 L320.19,231.25 L320.91,231.95 L321.63,232.61 L322.34,233.21 L323.06,233.75 L323.77,234.25 L324.49,234.69 L325.21,235.08 L325.92,235.41 L326.64,235.69 L327.36,235.91 L328.07,236.08 L328.79,236.19 L329.50,236.24 L330.22,236.24 L330.94,236.19 L331.65,236.09 L332.37,235.93 L333.08,235.73 L333.80,235.47 L334.52,235.17 L335.23,234.81 L335.95,234.40 L336.67,233.94 L337.38,233.43 L338.10,232.88 L338.81,232.27 L339.53,231.62 L340.25,230.92 L340.96,230.18 L341.68,229.38 L342.39,228.55 L343.11,227.67 L343.83,226.74 L344.54,225.77 L345.26,224.76 L345.97,223.71 L346.69,222.62 L347.41,221.49 L348.12,220.32 L348.84,219.12 L349.56,217.88 L350.27,216.60 L350.99,215.30 L351.70,213.96 L352.42,212.58 L353.14,211.18 L353.85,209.75 L354.57,208.30 L355.28,206.82 L356.00,205.31 L356.72,203.78 L357.43,202.23 L358.15,200.66 L358.86,199.07 L359.58,197.46 L360.30,195.84 L361.01,194.20 L361.73,192.55 L362.45,190.89 L363.16,189.22 L363.88,187.54 L364.59,185.85 L365.31,184.16 L366.03,182.47 L366.74,180.77 L367.46,179.07 L368.17,177.38 L368.89,175.68 L369.61,174.00 L370.32,172.31 L371.04,170.64 L371.76,168.97 L372.47,167.32 L373.19,165.67 L373.90,164.04 L374.62,162.43 L375.34,160.83 L376.05,159.25 L376.77,157.68 L377.48,156.14 L378.20,154.63 L378.92,153.13 L379.63,151.66 L380.35,150.22 L381.06,148.80 L381.78,147.42 L382.50,146.06 L383.21,144.74 L383.93,143.44 L384.65,142.19 L385.36,140.96 L386.08,139.78 L386.79,138.63 L387.51,137.52 L388.23,136.45 L388.94,135.42 L389.66,134.43 L390.37,133.48 L391.09,132.58 L391.81,131.72 L392.52,130.90 L393.24,130.14 L393.95,129.41 L394.67,128.74 L395.39,128.11 L396.10,127.53 L396.82,127.00 L397.54,126.51 L398.25,126.08 L398.97,125.70 L399.68,125.36 L400.40,125.08" fill="none" stroke="#ff0000" stroke-width="1.1" stroke-dasharray="3.75,1.4"/>
<path d="M49.50,227.10 L56.66,216.50 L63.82,210.90 L70.98,192.90 L78.14,174.50 L85.31,160.20 L92.47,143.00 L99.63,127.50 L106.79,119.50 L113.95,121.50 L121.11,127.50 L128.27,140.90 L135.43,162.50 L142.60,181.50 L149.76,194.50 L156.92,213.40 L164.08,218.60 L171.24,229.00 L178.40,232.10 L185.56,227.60 L192.72,216.90 L199.89,205.20 L207.05,191.00 L214.21,177.00 L221.37,168.50 L228.53,150.50 L235.69,143.00 L242.85,140.25 L250.01,140.25 L257.18,146.20 L264.34,152.25 L271.50,156.50 L278.66,173.00 L285.82,178.90 L292.98,199.30 L300.14,204.30 L307.30,212.40 L314.47,218.70 L321.63,225.25 L328.79,223.30 L335.95,210.80 L343.11,196.80 L350.27,178.80 L357.43,160.40 L364.59,143.50 L371.76,134.80 L378.92,126.70 L386.08,124.40 L393.24,125.50 L400.40,127.00" fill="none" stroke="#0000ff" stroke-width="1.1" stroke-linejoin="round" stroke-linecap="round"/>
</g>
<rect x="131.8" y="24.85" width="29.2" height="6.55" fill="#cbcbcb"/>
<path d="M131.4,15.3H161.1" stroke="#000" stroke-width="1.1"/>
<path d="M131.4,40.5H161.1" stroke="#ff0000" stroke-width="1.1" stroke-dasharray="3.65,1.5"/>
<path d="M131.4,53.2H161.1" stroke="#0000ff" stroke-width="1.1"/>
</svg>
<div class="t" style="right:367.1px;top:228.5px;">0.0</div>
<div class="t" style="right:367.1px;top:195.9px;"><svg class="one" viewBox="0 -18 556 727"><path d="M366,709 L292,709 L292,190 L104,190 L104,138 C200,130 274,85 306,-18 L366,-18 Z"/></svg>.0</div>
<div class="t" style="right:367.1px;top:163.2px;">2.0</div>
<div class="t" style="right:367.1px;top:130.5px;">3.0</div>
<div class="t" style="right:367.1px;top:97.8px;">4.0</div>
<div class="t" style="right:367.1px;top:65.1px;">5.0</div>
<div class="t" style="right:367.1px;top:32.4px;">6.0</div>
<div class="t" style="right:367.1px;top:-0.3px;">7.0</div>
<div class="t" style="left:115.8px;top:235.5px;width:60px;margin-left:-30px;text-align:center;">0.2</div>
<div class="t" style="left:187.4px;top:235.5px;width:60px;margin-left:-30px;text-align:center;">0.4</div>
<div class="t" style="left:259.0px;top:235.5px;width:60px;margin-left:-30px;text-align:center;">0.6</div>
<div class="t" style="left:330.6px;top:235.5px;width:60px;margin-left:-30px;text-align:center;">0.8</div>
<div class="t" style="left:403.0px;top:235.5px;width:60px;margin-left:-30px;text-align:center;"><svg class="one" viewBox="0 -18 556 727"><path d="M366,709 L292,709 L292,190 L104,190 L104,138 C200,130 274,85 306,-18 L366,-18 Z"/></svg></div>
<div class="t" style="right:289.1px;top:8.6px;letter-spacing:0.18px">average</div>
<div class="t" style="right:289.1px;top:21.3px;letter-spacing:0.18px">±<svg class="one" viewBox="0 -18 556 727"><path d="M366,709 L292,709 L292,190 L104,190 L104,138 C200,130 274,85 306,-18 L366,-18 Z"/></svg>σ</div>
<div class="t" style="right:289.1px;top:34.0px;letter-spacing:0.18px">regular</div>
<div class="t" style="right:289.1px;top:46.6px;letter-spacing:0.18px">one realiz.</div>
<div class="t" style="left:204.3px;top:240.4px;font-size:15px;line-height:17px;letter-spacing:0">r (kpc)</div>
<svg width="40" height="180" viewBox="0 0 40 180" style="position:absolute;left:0;top:0;overflow:visible">
<g transform="translate(20.3,152.3) rotate(-90)" font-family="Liberation Sans, sans-serif" fill="#000">
<text x="0" y="0" font-size="15">P</text>
<text x="10.0" y="4.2" font-size="12">av</text>
<text x="27.45" y="0" font-size="15">×</text>
<path transform="translate(38.78,0) scale(0.015) translate(0,-709)" d="M366,709 L292,709 L292,190 L104,190 L104,138 C200,130 274,85 306,-18 L366,-18 Z"/>
<text x="47.12" y="0" font-size="15">0</text>
<text x="55.46" y="-6.2" font-size="12">5</text>
</g></svg>
</body></html>
